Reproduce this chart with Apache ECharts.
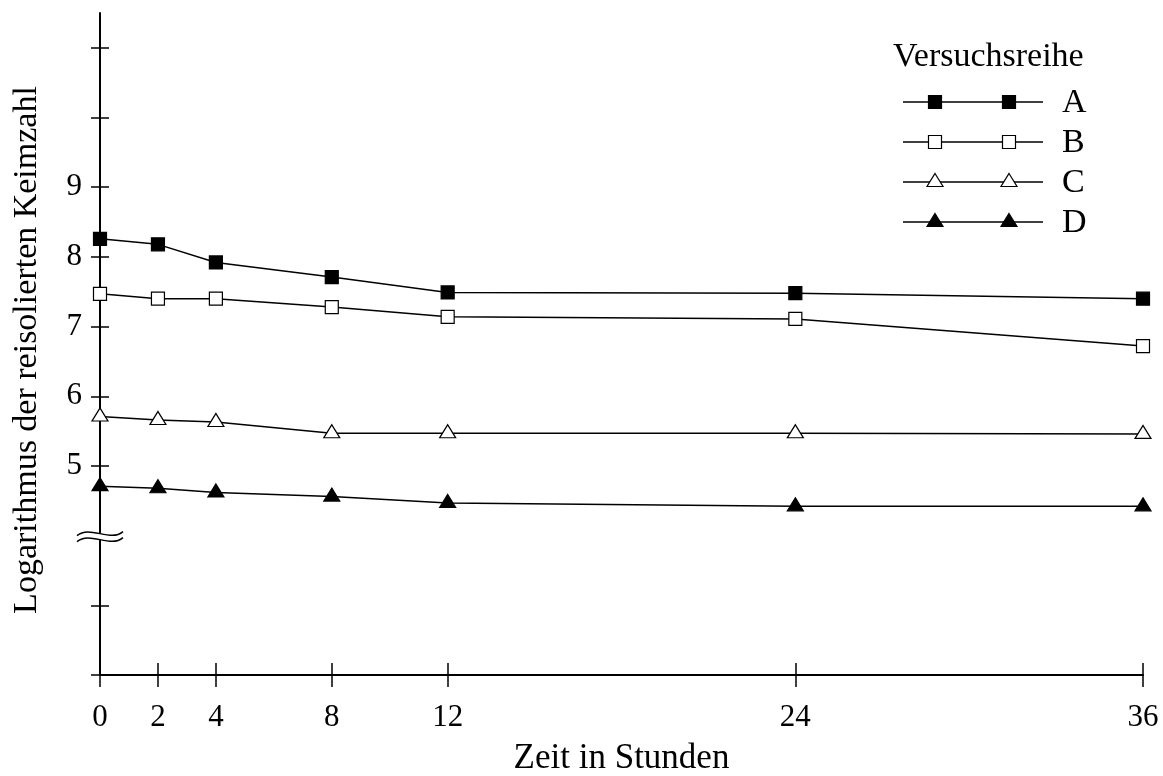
<!DOCTYPE html>
<html lang="de">
<head>
  <meta charset="UTF-8">
  <title>Keimzahl</title>
  <script src="https://cdn.jsdelivr.net/npm/echarts@6/dist/echarts.min.js"></script>
  <style>
    html, body { margin: 0; padding: 0; background: #fff; }
  </style>
</head>
<body>
  <div id="main" style="width:1163px;height:776px;"></div>
  <script>
  // Zeitpunkte (Stunden) und log. Keimzahl je Versuchsreihe
  var hours = [0, 2, 4, 8, 12, 24, 36]
  var reiheA = [8.26, 8.18, 7.92, 7.71, 7.49, 7.48, 7.40]
  var reiheB = [7.47, 7.40, 7.40, 7.28, 7.14, 7.11, 6.72]
  var reiheC = [5.71, 5.66, 5.63, 5.47, 5.47, 5.47, 5.46]
  var reiheD = [4.71, 4.68, 4.62, 4.56, 4.47, 4.42, 4.42]
  var yTicks = [2, 3, 5, 6, 7, 8, 9, 10, 11]
  var yLabels = [5, 6, 7, 8, 9]
  var names = ['A', 'B', 'C', 'D']

  var font = 'Liberation Serif'
  var myChart = echarts.init(document.getElementById('main'))

  function pairs(vals) {
    return hours.map(function (h, i) { return [h, vals[i]] })
  }

  // Symbolstil je Reihe
  var marks = [
    { symbol: 'rect', size: 13, fill: '#000', offset: [0, 0] },
    { symbol: 'rect', size: 13, fill: '#fff', offset: [0, 0] },
    { symbol: 'triangle', size: [16, 13], fill: '#fff', offset: [0, -2] },
    { symbol: 'triangle', size: [16, 13], fill: '#000', offset: [0, -2] }
  ]

  var series = [reiheA, reiheB, reiheC, reiheD].map(function (vals, i) {
    return {
      name: names[i],
      type: 'line',
      data: pairs(vals),
      symbol: marks[i].symbol,
      symbolSize: marks[i].size,
      symbolOffset: marks[i].offset,
      showAllSymbol: true,
      lineStyle: { color: '#000', width: 1.5 },
      itemStyle: { color: marks[i].fill, borderColor: '#000', borderWidth: 1.2, opacity: 1 },
      z: 3
    }
  })

  var option = {
    animation: false,
    grid: { left: 100, right: 20, top: 13, bottom: 101, outerBoundsMode: 'none', containLabel: false },
    xAxis: [{
      type: 'value',
      min: 0,
      max: 36,
      name: 'Zeit in Stunden',
      nameLocation: 'middle',
      nameGap: 66,
      nameTextStyle: { fontFamily: font, fontSize: 35, color: '#000' },
      axisLine: { lineStyle: { color: '#000', width: 2 } },
      axisTick: { customValues: hours, length: 12, lineStyle: { color: '#000', width: 1.5 } },
      axisLabel: { customValues: hours, fontFamily: font, fontSize: 31, color: '#000', margin: 27 },
      splitLine: { show: false }
    }, {
      type: 'value',
      min: 0,
      max: 36,
      position: 'bottom',
      axisLine: { show: false },
      axisTick: { inside: true, customValues: hours, length: 12, lineStyle: { color: '#000', width: 1.5 } },
      axisLabel: { show: false },
      splitLine: { show: false }
    }],
    yAxis: [{
      type: 'value',
      min: 2,
      max: 11.5,
      name: 'Logarithmus der reisolierten Keimzahl',
      nameLocation: 'middle',
      nameGap: 56,
      nameTextStyle: { fontFamily: font, fontSize: 34, color: '#000', padding: [0, 12, 0, 0] },
      axisLine: { show: true, lineStyle: { color: '#000', width: 2 } },
      axisTick: { show: true, customValues: yTicks, length: 9, lineStyle: { color: '#000', width: 1.5 } },
      axisLabel: { customValues: yLabels, fontFamily: font, fontSize: 31, color: '#000', margin: 18 },
      splitLine: { show: false }
    }, {
      type: 'value',
      min: 2,
      max: 11.5,
      position: 'left',
      axisLine: { show: false },
      axisTick: { show: true, inside: true, customValues: yTicks, length: 9, lineStyle: { color: '#000', width: 1.5 } },
      axisLabel: { show: false },
      splitLine: { show: false }
    }],
    series: series
  }
  myChart.setOption(option)

  // Legende mit je zwei Symbolen, rechts oben
  var legendEls = [{
    type: 'text',
    x: 893, y: 57,
    style: { text: 'Versuchsreihe', font: '34px "' + font + '"', fill: '#000', verticalAlign: 'middle' }
  }]
  names.forEach(function (n, i) {
    var y = 102 + i * 40
    legendEls.push({
      type: 'line',
      shape: { x1: 903, y1: y, x2: 1043, y2: y },
      style: { stroke: '#000', lineWidth: 1.5 }
    })
    ;[935, 1009].forEach(function (x) {
      if (marks[i].symbol === 'rect') {
        legendEls.push({
          type: 'rect',
          shape: { x: x - 6.5, y: y - 6.5, width: 13, height: 13 },
          style: { fill: marks[i].fill, stroke: '#000', lineWidth: 1.2 },
          z: 10
        })
      } else {
        legendEls.push({
          type: 'polygon',
          shape: { points: [[x, y - 8.5], [x + 8, y + 4.5], [x - 8, y + 4.5]] },
          style: { fill: marks[i].fill, stroke: '#000', lineWidth: 1.2 },
          z: 10
        })
      }
    })
    legendEls.push({
      type: 'text',
      x: 1062, y: y + 1,
      style: { text: n, font: '34px "' + font + '"', fill: '#000', verticalAlign: 'middle' }
    })
  })

  // Achsenbruch bei y = 4
  var p = myChart.convertToPixel({ gridIndex: 0 }, [0, 4])
  var bx = p[0], by = p[1]
  legendEls.push({
    type: 'rect',
    shape: { x: bx - 3, y: by - 2, width: 6, height: 6 },
    style: { fill: '#fff' },
    z: 20
  })
  ;[-2, 4].forEach(function (dy) {
    var yy = by + dy
    legendEls.push({
      type: 'bezierCurve',
      shape: { x1: bx - 23, y1: yy + 2, cpx1: bx - 10, cpy1: yy - 9, cpx2: bx + 10, cpy2: yy + 9, x2: bx + 23, y2: yy - 2 },
      style: { stroke: '#000', lineWidth: 1.5, fill: null },
      z: 21
    })
  })

  myChart.setOption({ graphic: { elements: legendEls } })
  </script>
</body>
</html>
